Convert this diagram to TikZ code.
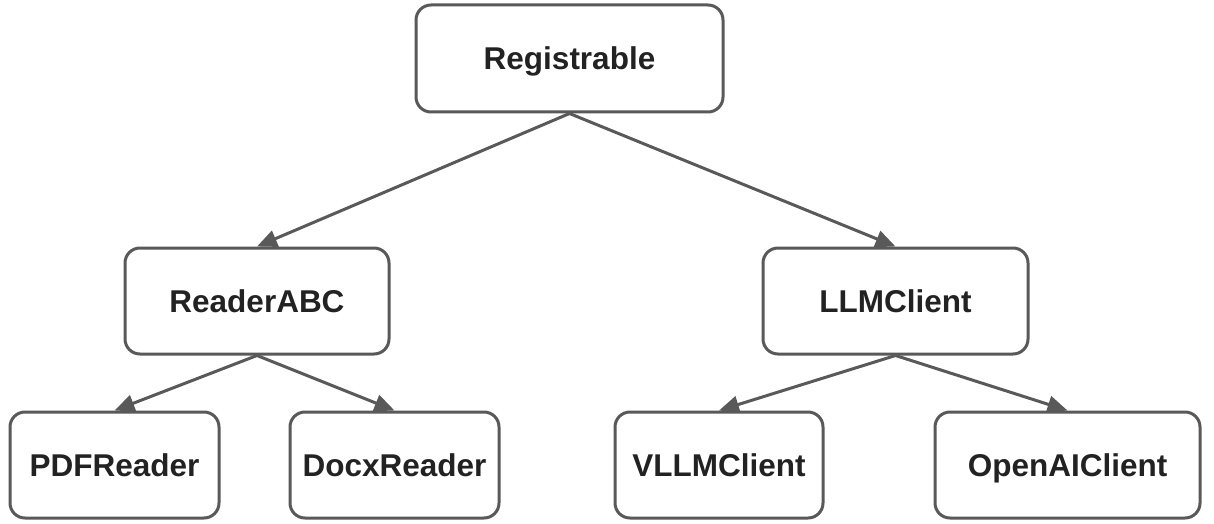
\documentclass[tikz,border=0pt]{standalone}
\usepackage{fontspec}
\setmainfont{Liberation Sans}
\usetikzlibrary{arrows.meta}
\definecolor{edgegray}{HTML}{595959}
\definecolor{textdark}{HTML}{222222}
\tikzset{
  box/.style={draw=edgegray, line width=3pt, rounded corners=15pt, fill=white,
    minimum height=106pt, inner sep=0pt, text height=23pt, text depth=0pt,
    font=\fontsize{31.5}{36}\selectfont\bfseries, text=textdark},
  link/.style={draw=edgegray, line width=3pt, -{Triangle[length=20pt,width=17pt]}}
}
\begin{document}
\begin{tikzpicture}[x=1pt,y=-1pt]
\useasboundingbox (0,0) rectangle (1214,524);
\node[box, minimum width=307pt, minimum height=107pt] (reg) at (569.5,58.5) {Registrable};
\node[box, minimum width=264pt] (rabc) at (257,301) {ReaderABC};
\node[box, minimum width=265pt] (llm) at (895.5,301) {LLMClient};
\node[box, minimum width=209pt] (pdf) at (114.5,465) {PDFReader};
\node[box, minimum width=209pt] (docx) at (394.5,465) {DocxReader};
\node[box, minimum width=208pt] (vllm) at (719,465) {VLLMClient};
\node[box, minimum width=265pt] (oai) at (1067.5,465) {OpenAIClient};
\draw[link] (reg.south) -- (rabc.north);
\draw[link] (reg.south) -- (llm.north);
\draw[link] (rabc.south) -- (pdf.north);
\draw[link] (rabc.south) -- (docx.north);
\draw[link] (llm.south) -- (vllm.north);
\draw[link] (llm.south) -- (oai.north);
\end{tikzpicture}
\end{document}
